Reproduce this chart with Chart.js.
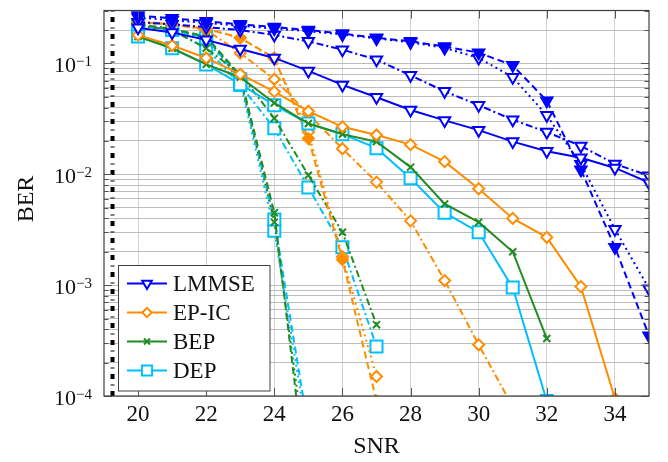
<!DOCTYPE html>
<html>
<head>
<meta charset="utf-8">
<script src="https://cdn.jsdelivr.net/npm/chart.js@4.4.0/dist/chart.umd.min.js"></script>
<style>
  html, body { margin: 0; padding: 0; background: #fff; }
  canvas { display: block; }
</style>
</head>
<body>
<canvas id="chart" width="668" height="462"></canvas>
<script>
// SNR points shared by every curve
const snr = [20, 21, 22, 23, 24, 25, 26, 27, 28, 29, 30, 31, 32, 33, 34, 35];
const xTicks = [20, 22, 24, 26, 28, 30, 32, 34];
const yDecades = [-4, -3, -2, -1];

// LMMSE (blue)
const lmmseSolid   = [0.21, 0.19, 0.163, 0.135, 0.112, 0.0855, 0.064, 0.0495, 0.038, 0.0306, 0.025, 0.0197, 0.0161, 0.0141, 0.0114, 0.0084];
const lmmseDash    = [0.27, 0.255, 0.24, 0.225, 0.213, 0.2, 0.186, 0.17, 0.158, 0.142, 0.125, 0.096, 0.046, 0.011, 0.0022, 0.00035];
const lmmseDot     = [0.26, 0.245, 0.232, 0.218, 0.206, 0.195, 0.182, 0.168, 0.155, 0.138, 0.112, 0.075, 0.034, 0.0123, 0.0032, 0.00093];
const lmmseDashDot = [0.235, 0.225, 0.212, 0.2, 0.18, 0.158, 0.133, 0.108, 0.078, 0.056, 0.042, 0.031, 0.024, 0.018, 0.0124, 0.0097];

// EP-IC (orange)
const epSolid   = [0.18, 0.145, 0.112, 0.08, 0.0556, 0.037, 0.0268, 0.0226, 0.0185, 0.013, 0.0074, 0.004, 0.0027, 0.00097, 0.000095, null];
const epDash    = [0.235, 0.225, 0.205, 0.17, 0.112, 0.021, 0.0017, 0.00009, null, null, null, null, null, null, null, null];
const epDot     = [0.235, 0.225, 0.205, 0.17, 0.11, 0.024, 0.0018, 0.00015, null, null, null, null, null, null, null, null];
const epDashDot = [0.24, 0.225, 0.2, 0.124, 0.072, 0.035, 0.017, 0.0085, 0.0038, 0.0011, 0.00029, 0.00008, null, null, null, null];

// BEP (green)
const bepSolid   = [0.175, 0.137, 0.098, 0.075, 0.044, 0.0287, 0.023, 0.0197, 0.0116, 0.0054, 0.0037, 0.002, 0.00033, null, null, null];
const bepDash    = [0.225, 0.205, 0.175, 0.078, 0.0045, 0.000012, null, null, null, null, null, null, null, null, null, null];
const bepDot     = [0.225, 0.205, 0.17, 0.075, 0.0037, 0.00002, null, null, null, null, null, null, null, null, null, null];
const bepDashDot = [0.22, 0.2, 0.137, 0.08, 0.032, 0.0098, 0.003, 0.00044, null, null, null, null, null, null, null, null];

// DEP (cyan)
const depSolid   = [0.175, 0.137, 0.098, 0.065, 0.042, 0.0287, 0.023, 0.0172, 0.0092, 0.0045, 0.003, 0.00095, 0.00009, null, null, null];
const depDash    = [0.22, 0.2, 0.17, 0.072, 0.0039, 0.00005, null, null, null, null, null, null, null, null, null, null];
const depDot     = [0.22, 0.2, 0.165, 0.068, 0.0031, 0.00004, null, null, null, null, null, null, null, null, null, null];
const depDashDot = [0.22, 0.2, 0.137, 0.064, 0.026, 0.0076, 0.0022, 0.00028, null, null, null, null, null, null, null, null];

// black dash-dot reference line near the left border
const refX = [19.25, 19.25];
const refY = [0.0001, 0.3];

const legendLabels = ['LMMSE', 'EP-IC', 'BEP', 'DEP'];

const BLUE = '#0000ff', ORANGE = '#ff8c00', GREEN = '#228b22', CYAN = '#00bfff';
const SOLID = [], DASH = [7, 4], DOT = [2, 3.5], DASHDOT = [7, 3, 2, 3];
const TRI = { style: 'triangle', rot: 180, r: 6.5 };
const DIA = { style: 'rectRot', rot: 0, r: 5.5 };
const CROSS = { style: 'crossRot', rot: 0, r: 5 };
const SQ = { style: 'rect', rot: 0, r: 8.5 };
const SERIF = '"Liberation Serif", "Times New Roman", serif';

function series(values, color, dash, marker, filled) {
    return {
        data: snr.map((x, i) => values[i] == null ? null : { x: x, y: values[i] }).filter(p => p),
        borderColor: color,
        borderWidth: 2,
        borderDash: dash,
        fill: false,
        tension: 0,
        pointStyle: marker.style,
        rotation: marker.rot,
        pointRadius: marker.r,
        pointBorderWidth: 2,
        pointBorderColor: color,
        pointBackgroundColor: filled ? color : '#ffffff'
    };
}

const datasets = [
    series(lmmseSolid, BLUE, SOLID, TRI, false),
    series(epSolid, ORANGE, SOLID, DIA, false),
    series(bepSolid, GREEN, SOLID, CROSS, false),
    series(depSolid, CYAN, SOLID, SQ, false),
    series(lmmseDash, BLUE, DASH, TRI, true),
    series(lmmseDot, BLUE, DOT, TRI, false),
    series(lmmseDashDot, BLUE, DASHDOT, TRI, false),
    series(epDash, ORANGE, DASH, DIA, true),
    series(epDot, ORANGE, DOT, DIA, false),
    series(epDashDot, ORANGE, DASHDOT, DIA, false),
    series(bepDash, GREEN, DASH, CROSS, false),
    series(bepDot, GREEN, DOT, CROSS, false),
    series(bepDashDot, GREEN, DASHDOT, CROSS, false),
    series(depDash, CYAN, DASH, SQ, false),
    series(depDot, CYAN, DOT, SQ, false),
    series(depDashDot, CYAN, DASHDOT, SQ, false),
    {
        data: refX.map((x, i) => ({ x: x, y: refY[i] })),
        borderColor: '#000000',
        borderWidth: 4,
        borderDash: [5, 5.5, 1, 5.5],
        pointRadius: 0,
        fill: false
    }
];

function line(ctx, x1, y1, x2, y2) {
    ctx.beginPath();
    ctx.moveTo(x1, y1);
    ctx.lineTo(x2, y2);
    ctx.stroke();
}

const decorations = {
    id: 'decorations',
    afterDraw(chart) {
        const ctx = chart.ctx;
        const a = chart.chartArea;
        const xs = chart.scales.x, ys = chart.scales.y;
        ctx.save();

        // inward tick marks
        ctx.strokeStyle = '#555555';
        ctx.lineWidth = 1;
        xTicks.forEach(v => {
            const px = Math.round(xs.getPixelForValue(v)) + 0.5;
            line(ctx, px, a.top, px, a.top + 8);
            line(ctx, px, a.bottom, px, a.bottom - 8);
        });
        ys.ticks.forEach(t => {
            const lg = Math.log10(t.value);
            const len = Math.abs(lg - Math.round(lg)) < 1e-9 ? 8 : 4.5;
            const py = Math.round(ys.getPixelForValue(t.value)) + 0.5;
            line(ctx, a.left, py, a.left + len, py);
            line(ctx, a.right, py, a.right - len, py);
        });

        // frame
        ctx.strokeStyle = '#404040';
        ctx.lineWidth = 1.2;
        ctx.strokeRect(a.left, a.top, a.right - a.left, a.bottom - a.top);

        // x tick labels
        ctx.fillStyle = '#111111';
        ctx.textAlign = 'center';
        ctx.textBaseline = 'alphabetic';
        ctx.font = '23px ' + SERIF;
        xTicks.forEach(v => ctx.fillText(String(v), xs.getPixelForValue(v), 421));

        // y tick labels 10^k
        yDecades.forEach(e => {
            const py = ys.getPixelForValue(Math.pow(10, e));
            const sup = '\u2212' + Math.abs(e);
            ctx.font = '15px ' + SERIF;
            const supW = ctx.measureText(sup).width;
            ctx.font = '22px ' + SERIF;
            const baseW = ctx.measureText('10').width;
            const right = a.left - 12;
            ctx.textAlign = 'left';
            ctx.fillText('10', right - supW - baseW, py + 9);
            ctx.font = '15px ' + SERIF;
            ctx.fillText(sup, right - supW, py + 2.5);
        });

        // axis titles
        ctx.font = '24px ' + SERIF;
        ctx.textAlign = 'center';
        ctx.fillText('SNR', (a.left + a.right) / 2, 453);
        ctx.save();
        ctx.translate(33, 199);
        ctx.rotate(-Math.PI / 2);
        ctx.fillText('BER', 0, 0);
        ctx.restore();

        // legend box inside the plot, bottom left
        const bx = 118.5, by = 265.5, bw = 151.5, bh = 125.5;
        ctx.fillStyle = '#ffffff';
        ctx.fillRect(bx, by, bw, bh);
        ctx.strokeStyle = '#404040';
        ctx.lineWidth = 1;
        ctx.strokeRect(bx, by, bw, bh);
        ctx.font = '23px ' + SERIF;
        ctx.textAlign = 'left';
        legendLabels.forEach((label, i) => {
            const ds = datasets[i];
            const y = 283.5 + i * 29;
            ctx.strokeStyle = ds.borderColor;
            ctx.lineWidth = 2;
            ctx.setLineDash([]);
            line(ctx, 127, y, 167, y);
            ctx.fillStyle = ds.pointBackgroundColor;
            Chart.helpers.drawPoint(ctx, {
                pointStyle: ds.pointStyle,
                rotation: ds.rotation,
                radius: ds.pointRadius * 0.85,
                borderWidth: 2
            }, 147, y);
            ctx.fillStyle = '#111111';
            ctx.fillText(label, 173, y + 7.8);
        });

        ctx.restore();
    }
};

new Chart(document.getElementById('chart'), {
    type: 'line',
    data: { datasets: datasets },
    options: {
        responsive: false,
        devicePixelRatio: 1,
        animation: false,
        layout: { padding: { top: 3, right: 19, left: 0, bottom: 0 } },
        plugins: {
            legend: { display: false },
            tooltip: { enabled: false }
        },
        scales: {
            x: {
                type: 'linear',
                min: 19,
                max: 35,
                afterBuildTicks: scale => { scale.ticks = xTicks.map(v => ({ value: v })); },
                afterFit: scale => { scale.height = 66; },
                ticks: { display: false },
                border: { display: false },
                grid: { color: '#d2d2d2', lineWidth: 1, drawTicks: false }
            },
            y: {
                type: 'logarithmic',
                min: 0.0001,
                max: 0.3,
                afterBuildTicks: scale => {
                    const t = [];
                    for (let e = -4; e <= -1; e++) {
                        for (let m = 1; m <= 9; m++) {
                            const v = m * Math.pow(10, e);
                            if (v <= 0.3 + 1e-12) t.push({ value: v });
                        }
                    }
                    scale.ticks = t;
                },
                afterFit: scale => { scale.width = 104; },
                ticks: { display: false },
                border: { display: false },
                grid: { color: '#bcbcbc', lineWidth: 1, drawTicks: false }
            }
        }
    },
    plugins: [decorations]
});
</script>
</body>
</html>
